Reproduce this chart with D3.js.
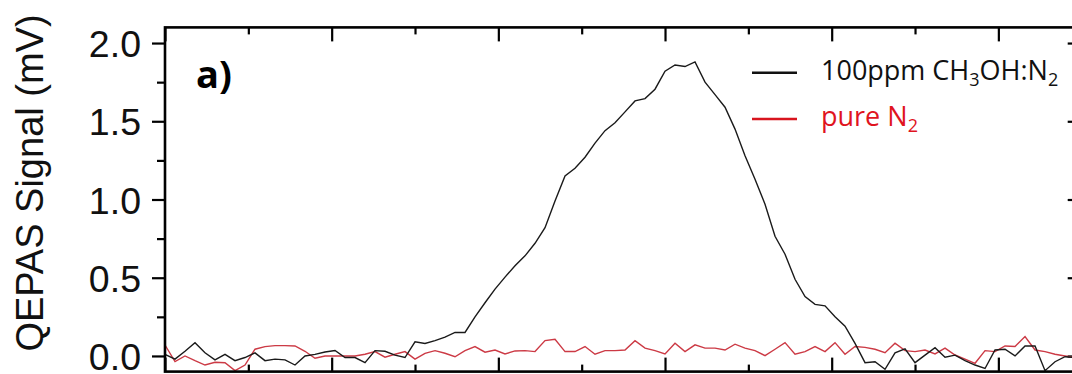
<!DOCTYPE html>
<html><head><meta charset="utf-8">
<script src="https://cdn.jsdelivr.net/npm/d3@7"></script>
<style>body{margin:0;background:#fff;overflow:hidden} svg{display:block}</style>
</head><body><svg id="c" width="1072" height="374"></svg>
<script>
// ---- data ----
const xTicksMajor = [0, 200, 400, 600, 800, 1000];
const xTicksMinor = [100, 300, 500, 700, 900, 1100];
const yTicksMajor = [0.0, 0.5, 1.0, 1.5, 2.0];
const yTicksMinor = [0.25, 0.75, 1.25, 1.75];
const xValues = [0,12,24,36,48,60,72,84,96,108,120,132,144,156,168,180,192,204,216,228,
  240,252,264,276,288,300,312,324,336,348,360,372,384,396,408,420,432,444,456,468,
  480,492,504,516,528,540,552,564,576,588,600,612,624,636,648,660,672,684,696,708,
  720,732,744,756,768,780,792,804,816,828,840,852,864,876,888,900,912,924,936,948,
  960,972,984,996,1008,1020,1032,1044,1056,1068,1080,1092];
const methanol = [0.01,-0.02,0.03,0.085,0.02,-0.025,0.01,-0.03,-0.01,0.02,
  -0.03,-0.02,-0.025,-0.058,0.0,0.01,0.025,0.035,-0.01,-0.01,
  -0.043,0.034,0.03,0.005,-0.01,0.09,0.08,0.098,0.12,0.15,
  0.15,0.25,0.34,0.427,0.504,0.577,0.64,0.72,0.82,0.99,
  1.15,1.20,1.27,1.36,1.44,1.49,1.56,1.63,1.645,1.705,
  1.82,1.86,1.85,1.88,1.75,1.67,1.59,1.45,1.28,1.13,
  0.97,0.765,0.65,0.49,0.38,0.33,0.32,0.25,0.19,0.08,
  -0.043,-0.037,-0.085,0.02,0.045,-0.043,0.005,0.053,-0.008,0.005,
  -0.03,-0.058,-0.08,0.038,0.043,0.0,0.064,0.064,-0.094,-0.037,
  -0.005,-0.01];
const pureN2 = [0.07,-0.036,0.0,-0.03,-0.058,-0.04,-0.043,-0.094,-0.058,0.043,
  0.06,0.066,0.066,0.064,0.03,-0.015,0.0,0.0,0.0,0.0,
  0.011,0.028,-0.008,0.011,0.028,-0.02,0.017,0.034,0.017,-0.005,
  0.034,0.06,0.024,0.038,0.013,0.032,0.034,0.028,0.098,0.107,
  0.028,0.028,0.06,0.011,0.034,0.034,0.038,0.098,0.05,0.034,
  0.013,0.081,0.028,0.071,0.05,0.05,0.038,0.075,0.05,0.034,
  0.002,0.043,0.085,0.011,0.028,0.06,0.028,0.085,0.011,0.06,
  0.055,0.043,0.021,0.081,0.034,0.028,0.038,0.013,0.05,0.006,
  -0.02,-0.047,0.034,0.028,0.064,0.06,0.124,0.038,0.028,0.011,
  0.0,-0.01];
const seriesNames = ["100ppm CH|3|OH:N|2", "pure N|2"];
const yTitle = "QEPAS Signal (mV)";
const panelLabel = "a)";

// ---- layout ----
const L = 165, R = 1081.7, T = 27.4, B = 371.6;
const svg = d3.select("#c");
const x = d3.scaleLinear().domain([0, 1100]).range([L, R]);
const y = d3.scaleLinear().domain([-0.1, 2.1]).range([B, T]);

function axisStyle(g, labels) {
  g.select(".domain").remove();
  g.selectAll(".tick line").attr("stroke", "#000").attr("stroke-width", 2.2);
  if (!labels) g.selectAll(".tick text").remove();
}

// left axis
svg.append("g").attr("transform", `translate(${L},0)`)
  .call(d3.axisLeft(y).tickValues(yTicksMajor).tickSize(13).tickPadding(11).tickFormat(d3.format(".1f")))
  .call(g => axisStyle(g, true))
  .call(g => g.selectAll(".tick text").attr("font-family", "'Liberation Sans', Arial, sans-serif")
    .attr("font-size", 37.5).attr("fill", "#111").attr("dy", "0.36em"));
svg.append("g").attr("transform", `translate(${L},0)`)
  .call(d3.axisLeft(y).tickValues(yTicksMinor).tickSize(8).tickFormat(""))
  .call(g => axisStyle(g, false));
// right axis (inward)
svg.append("g").attr("transform", `translate(${R},0)`)
  .call(d3.axisRight(y).tickValues(yTicksMajor).tickSize(-14).tickFormat(""))
  .call(g => axisStyle(g, false));
// top / bottom (inward)
[[d3.axisTop, T], [d3.axisBottom, B]].forEach(([ax, pos]) => {
  svg.append("g").attr("transform", `translate(0,${pos})`)
    .call(ax(x).tickValues(xTicksMajor).tickSize(-14).tickFormat(""))
    .call(g => axisStyle(g, false));
  svg.append("g").attr("transform", `translate(0,${pos})`)
    .call(ax(x).tickValues(xTicksMinor).tickSize(-7).tickFormat(""))
    .call(g => axisStyle(g, false));
});

// data lines
const data = xValues.map((xv, i) => ({x: xv, a: methanol[i], b: pureN2[i]}));
svg.append("path").datum(data)
  .attr("fill", "none").attr("stroke", "#cc3a45").attr("stroke-width", 1.4)
  .attr("d", d3.line().x(d => x(d.x)).y(d => y(d.b)));
svg.append("path").datum(data)
  .attr("fill", "none").attr("stroke", "#1a1a1a").attr("stroke-width", 1.4)
  .attr("d", d3.line().x(d => x(d.x)).y(d => y(d.a)));

// frame
svg.append("rect").attr("x", L).attr("y", T).attr("width", R - L).attr("height", B - T)
  .attr("fill", "none").attr("stroke", "#000").attr("stroke-width", 2.6);

// y title
svg.append("text").attr("transform", `translate(43,183) rotate(-90)`)
  .attr("text-anchor", "middle").attr("font-family", "'Liberation Sans', Arial, sans-serif")
  .attr("font-size", 38).attr("fill", "#111").text(yTitle);

// panel label
svg.append("text").attr("x", 196).attr("y", 88)
  .attr("font-family", "'Open Sans', sans-serif").attr("font-weight", 700)
  .attr("font-size", 38).attr("fill", "#000").text(panelLabel);

// legend
const legColors = ["#111", "#e0141e"];
const legLine = ["#111", "#d8141e"];
const legY = [72.7, 119];
seriesNames.forEach((name, i) => {
  svg.append("line").attr("x1", 752).attr("x2", 797).attr("y1", legY[i]).attr("y2", legY[i])
    .attr("stroke", legLine[i]).attr("stroke-width", 2.6);
  const t = svg.append("text").attr("x", 821).attr("y", legY[i] + 7)
    .attr("font-family", "'Open Sans', sans-serif").attr("font-size", 27).attr("fill", legColors[i]);
  name.split("|").forEach((part, k) => {
    if (!part) return;
    const ts = t.append("tspan").text(part);
    if (k % 2 === 1) ts.attr("font-size", 18).attr("dy", 6);
    else if (k > 0) ts.attr("dy", -6);
  });
});
</script></body></html>
